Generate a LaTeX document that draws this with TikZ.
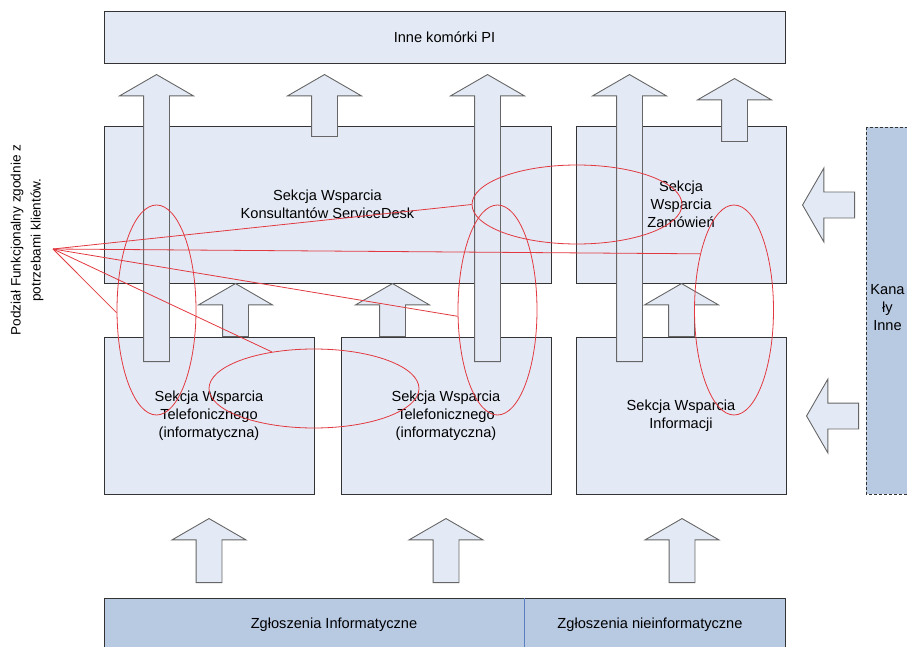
\documentclass[tikz,border=0pt]{standalone}
\usepackage{fontspec}
\setmainfont{Liberation Sans}
\usetikzlibrary{shapes.arrows, shapes.geometric}

\definecolor{boxfill}{HTML}{E4EAF5}
\definecolor{barfill}{HTML}{B8C9E2}
\definecolor{boxline}{HTML}{333333}
\definecolor{arrowline}{HTML}{666666}
\definecolor{ringred}{HTML}{E2383F}
\definecolor{splitblue}{HTML}{5A7EC2}

\begin{document}
\begin{tikzpicture}[x=1pt, y=-1pt,
        every node/.style={font=\fontsize{14.6}{18}\selectfont},
        panel/.style={fill=boxfill, draw=boxline, line width=0.9pt},
        flowarrow/.style={draw=arrowline, fill=boxfill, line width=0.9pt, single arrow, single arrow tip angle=120,
            single arrow head extend=24pt, minimum width=73pt, inner xsep=0pt, inner ysep=12.5pt, anchor=tail},
        ring/.style={draw=ringred, line width=0.8pt, ellipse, inner sep=0pt}]
        \useasboundingbox (0, 0) rectangle (907, 647);
        \clip (0, 0) rectangle (907, 647);

        \filldraw[panel] (104, 11) rectangle node (inneKomorki) {Inne komórki PI} (785, 63);

        \filldraw[panel] (104, 126) rectangle node[align=center] (serviceDesk) {Sekcja Wsparcia\\Konsultantów ServiceDesk} (551, 283);
        \filldraw[panel] (576, 126) rectangle node[align=center] (zamowienia) {Sekcja\\Wsparcia\\Zamówień} (786, 283);

        \filldraw[panel] (104, 337) rectangle node[align=center] (telefonA) {Sekcja Wsparcia\\Telefonicznego\\(informatyczna)} (314, 494);
        \filldraw[panel] (341, 337) rectangle node[align=center] (telefonB) {Sekcja Wsparcia\\Telefonicznego\\(informatyczna)} (551, 494);
        \filldraw[panel] (576, 337) rectangle node[align=center] (informacja) {Sekcja Wsparcia\\Informacji} (786, 494);

        \filldraw[fill=barfill, draw=boxline, line width=0.9pt] (104, 598) rectangle (785, 665);
        \draw[splitblue, line width=0.9pt] (524, 598) -- (524, 665);
        \node (zglInf) at (334, 625) {Zgłoszenia Informatyczne};
        \node (zglNie) at (650, 625) {Zgłoszenia nieinformatyczne};

        \filldraw[fill=barfill, draw=boxline, line width=0.9pt, densely dashed] (866, 127) rectangle (920, 494);
        \node[align=center] (kanaly) at (887.5, 308) {Kana\\ły\\Inne};

        \node[flowarrow, rotate=90, minimum height=287pt] (upA) at (156.5, 362) {};
        \node[flowarrow, rotate=90, minimum height=287pt] (upB) at (487.5, 362) {};
        \node[flowarrow, rotate=90, minimum height=287pt] (upC) at (629.5, 362) {};
        \node[flowarrow, rotate=90, minimum height=62pt] (upD) at (324.5, 137) {};
        \node[flowarrow, rotate=90, minimum height=63pt] (upE) at (734.5, 142) {};

        \node[flowarrow, rotate=90, minimum height=53pt] (midA) at (235.5, 337) {};
        \node[flowarrow, rotate=90, minimum height=53pt] (midB) at (392.5, 337) {};
        \node[flowarrow, rotate=90, minimum height=53pt] (midC) at (681.5, 337) {};

        \node[flowarrow, rotate=90, minimum height=64pt] (lowA) at (209, 583) {};
        \node[flowarrow, rotate=90, minimum height=64pt] (lowB) at (446, 583) {};
        \node[flowarrow, rotate=90, minimum height=64pt] (lowC) at (682, 583) {};

        \node[flowarrow, rotate=180, minimum height=52pt] (leftA) at (855, 205) {};
        \node[flowarrow, rotate=180, minimum height=52pt] (leftB) at (859, 416) {};

        \node[rotate=90, align=center, font=\fontsize{13.6}{20}\selectfont] (podzialText) at (27, 240) {Podział Funkcjonalny zgodnie z\\potrzebami klientów.};
        \coordinate (podzial) at (53, 249);

        \node[ring, minimum width=79pt, minimum height=210pt] (ringLeft) at (156.5, 310) {};
        \node[ring, minimum width=79pt, minimum height=210pt] (ringMid) at (497.5, 310) {};
        \node[ring, minimum width=79pt, minimum height=210pt] (ringRight) at (734, 310) {};
        \node[ring, minimum width=210pt, minimum height=79pt] (ringTop) at (577, 204.5) {};
        \node[ring, minimum width=210pt, minimum height=79pt] (ringLow) at (314, 388.5) {};

        \draw[ringred, line width=0.8pt] (podzial) -- (ringTop.west);
        \draw[ringred, line width=0.8pt] (podzial) -- (ringRight.121);
        \draw[ringred, line width=0.8pt] (podzial) -- (ringMid.189);
        \draw[ringred, line width=0.8pt] (podzial) -- (ringLow.139);
        \draw[ringred, line width=0.8pt] (podzial) -- (ringLeft.184);

    \end{tikzpicture}
\end{document}
